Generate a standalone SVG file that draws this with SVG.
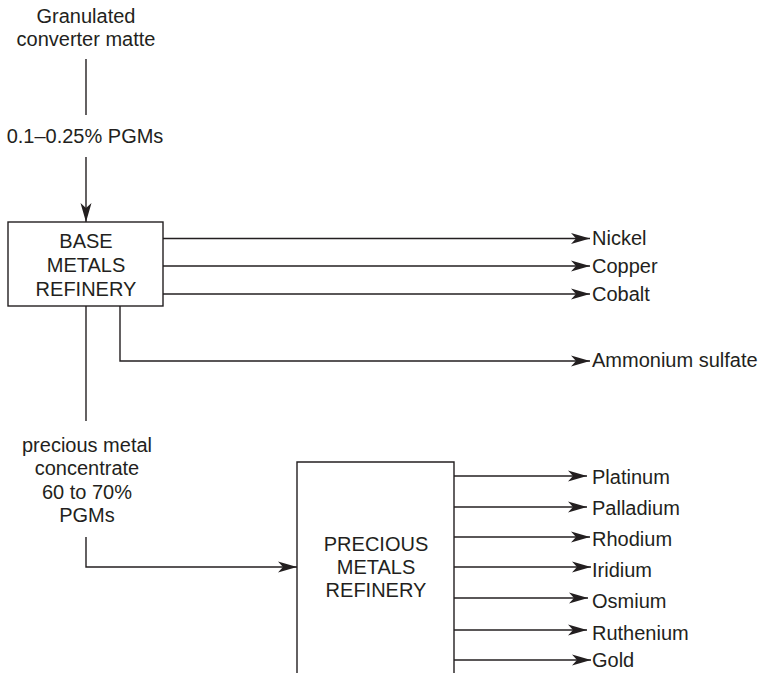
<svg xmlns="http://www.w3.org/2000/svg" width="759" height="673" viewBox="0 0 759 673">
  <defs>
    <marker id="arrow" markerWidth="20" markerHeight="14" refX="19" refY="7" orient="auto" markerUnits="userSpaceOnUse">
      <path d="M0,1.5 L19,7 L0,12.5 L5,7 Z" fill="#231f20"/>
    </marker>
  </defs>
  <style>
    text { font-family: "Liberation Sans", Arial, sans-serif; font-size: 20px; fill: #231f20; }
    .c { text-anchor: middle; }
    .box { fill: #fff; stroke: #231f20; stroke-width: 1.4; }
    .ln { fill: none; stroke: #231f20; stroke-width: 1.4; }
    .ar { fill: none; stroke: #231f20; stroke-width: 1.4; marker-end: url(#arrow); }
  </style>
  <rect width="759" height="673" fill="#fff"/>

  <!-- feed labels -->
  <g id="feed">
    <text class="c" x="86" y="23">Granulated</text>
    <text class="c" x="86" y="46">converter matte</text>
    <text class="c" x="85" y="143">0.1–0.25% PGMs</text>
  </g>

  <g id="connectors">
    <line class="ln" x1="86" y1="59" x2="86" y2="115"/>
    <line class="ar" x1="86" y1="157" x2="86" y2="222"/>
    <line class="ar" x1="163" y1="238.5" x2="590" y2="238.5"/>
    <line class="ar" x1="163" y1="266" x2="590" y2="266"/>
    <line class="ar" x1="163" y1="294" x2="590" y2="294"/>
    <polyline class="ar" points="120,306 120,361 590,361"/>
    <line class="ln" x1="86" y1="306" x2="86" y2="421"/>
    <polyline class="ar" points="86,537 86,567 297,567"/>
    <line class="ar" x1="454" y1="476" x2="587" y2="476"/>
    <line class="ar" x1="454" y1="507" x2="587" y2="507"/>
    <line class="ar" x1="454" y1="537" x2="590" y2="537"/>
    <line class="ar" x1="454" y1="567" x2="591" y2="567"/>
    <line class="ar" x1="454" y1="598" x2="588" y2="598"/>
    <line class="ar" x1="454" y1="630" x2="587" y2="630"/>
    <line class="ar" x1="454" y1="660" x2="591" y2="660"/>
  </g>

  <g id="base-metals-refinery">
    <rect class="box" x="8" y="222" width="155" height="84"/>
    <text class="c" x="86" y="248">BASE</text>
    <text class="c" x="86" y="272">METALS</text>
    <text class="c" x="86" y="296">REFINERY</text>
  </g>

  <g id="base-products">
    <text x="592" y="245">Nickel</text>
    <text x="592" y="273">Copper</text>
    <text x="592" y="301">Cobalt</text>
    <text x="592" y="367">Ammonium sulfate</text>
  </g>

  <g id="concentrate">
    <text class="c" x="87" y="452">precious metal</text>
    <text class="c" x="87" y="475">concentrate</text>
    <text class="c" x="87" y="499">60 to 70%</text>
    <text class="c" x="87" y="522">PGMs</text>
  </g>

  <g id="precious-metals-refinery">
    <path class="box" d="M297,673 L297,462 L454,462 L454,673"/>
    <text class="c" x="376" y="551">PRECIOUS</text>
    <text class="c" x="376" y="574">METALS</text>
    <text class="c" x="376" y="597">REFINERY</text>
  </g>

  <g id="precious-products">
    <text x="592" y="484">Platinum</text>
    <text x="592" y="515">Palladium</text>
    <text x="592" y="546">Rhodium</text>
    <text x="592" y="577">Iridium</text>
    <text x="592" y="608">Osmium</text>
    <text x="592" y="640">Ruthenium</text>
    <text x="592" y="667">Gold</text>
  </g>
</svg>
